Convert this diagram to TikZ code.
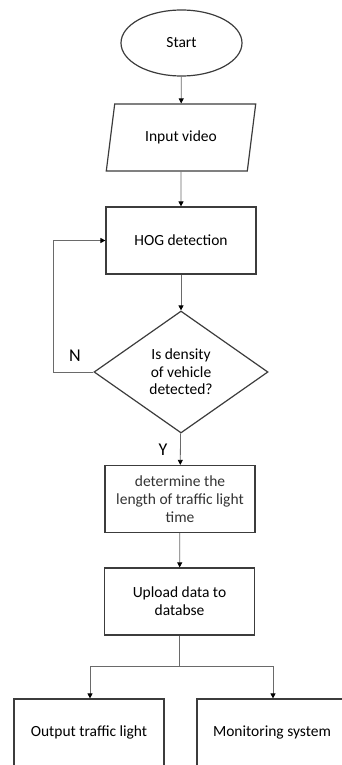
\documentclass[tikz,border=0pt]{standalone}
\usepackage{fontspec}
\setmainfont{Carlito}
\usepackage{tikz}
\usetikzlibrary{shapes.geometric,arrows.meta}
\usepackage{xcolor}

\definecolor{edgegray}{HTML}{3C3C3C}
\definecolor{linegray}{HTML}{6A6A6A}

\tikzset{
  box/.style={draw=edgegray,line width=1.2pt,rectangle,minimum width=150pt,minimum height=67pt,align=center,font=\fontsize{15.5}{18}\selectfont},
  terminal/.style={draw=edgegray,line width=1.2pt,ellipse,minimum width=121pt,minimum height=66pt,font=\fontsize{15.5}{18}\selectfont},
  iobox/.style={draw=edgegray,line width=1.2pt,trapezium,trapezium left angle=76,trapezium right angle=104,trapezium stretches=true,minimum width=150pt,minimum height=67pt,font=\fontsize{15.5}{18}\selectfont},
  decision/.style={draw=edgegray,line width=1.2pt,diamond,inner sep=0pt,minimum width=174pt,minimum height=122pt,align=center,font=\fontsize{15.5}{17.5}\selectfont},
  flow/.style={draw=linegray,line width=0.8pt,-{Triangle[length=5pt,width=5pt,color=black]}},
  plain/.style={draw=linegray,line width=0.8pt}
}

\begin{document}
\begin{tikzpicture}[x=1pt,y=-1pt]
  \useasboundingbox (0,0) rectangle (342,765);
  \node[terminal] (start) at (181.5,43) {Start};
  \node[iobox] (video) at (181,137.5) {Input video};
  \node[box] (hog) at (181,240.5) {HOG detection};
  \node[decision] (dense) at (181,372) {Is density\\of vehicle\\detected?};
  \node[box,text=black!80] (length) at (180,499) {determine the\\length of traffic light\\time};
  \node[box] (upload) at (179.5,601.5) {Upload data to\\databse};
  \node[box] (light) at (89,732.5) {Output traffic light};
  \node[box] (monitor) at (272,732.5) {Monitoring system};

  % main flow
  \draw[flow] (start) -- (video);
  \draw[flow] (video) -- (hog);
  \draw[flow] (hog) -- (dense);
  \draw[flow] (dense) -- (length);
  \node[font=\fontsize{18}{20}\selectfont] (yes) at (163,450) {Y};
  \draw[flow] (length) -- (upload);

  % loop back when nothing is detected
  \draw[flow] (dense.west) -- ++(-40,0) coordinate (back) |- (hog.west);
  \node[font=\fontsize{18}{20}\selectfont] (no) at (75,356) {N};

  % split to the two outputs
  \draw[plain] (upload.south) -- ++(0,31) coordinate (split);
  \draw[flow] (split) -| (light.north -| 90,0);
  \draw[flow] (split) -| (monitor.north -| 273,0);
\end{tikzpicture}
\end{document}
